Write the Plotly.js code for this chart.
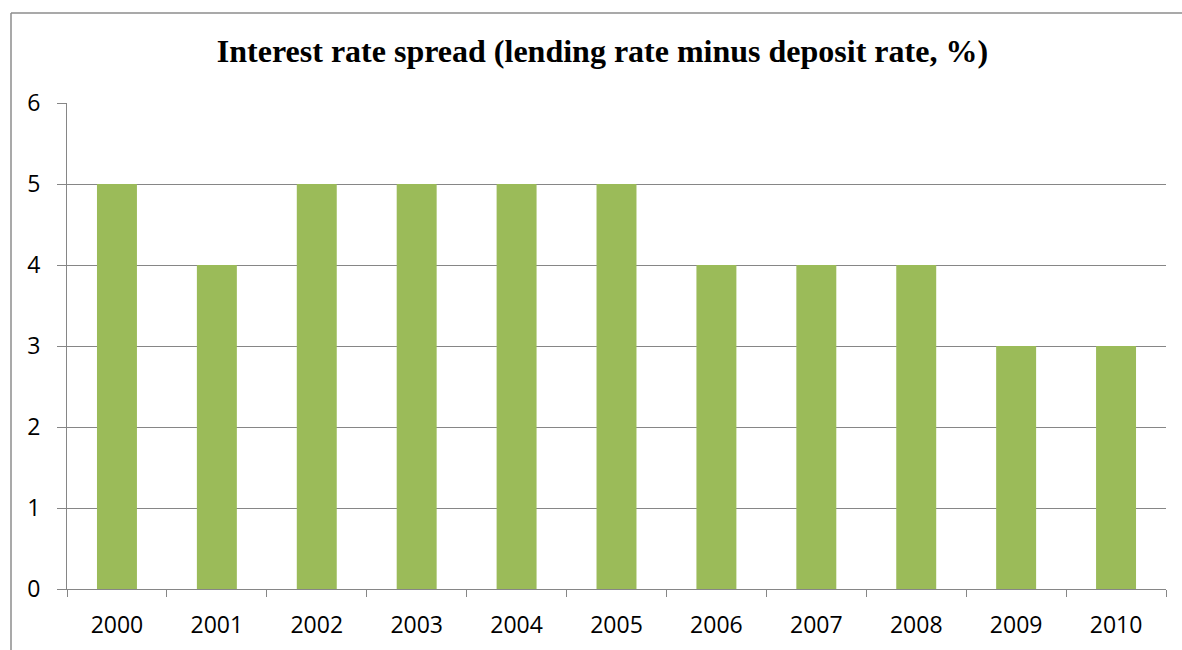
<!DOCTYPE html>
<html>
<head>
<meta charset="utf-8">
<script src="https://cdn.plot.ly/plotly-3.0.1.min.js"></script>
<style>html,body{margin:0;padding:0;background:#fff;}#chart{width:1182px;height:650px;}</style>
</head>
<body>
<div id="chart"></div>
<script>
var years = ["2000","2001","2002","2003","2004","2005","2006","2007","2008","2009","2010"];
var spread = [5, 4, 5, 5, 5, 5, 4, 4, 4, 3, 3];
var yTicks = [0, 1, 2, 3, 4, 5, 6];
var titleText = "Interest rate spread (lending rate minus deposit rate, %)";

var trace = {
  type: "bar",
  x: years,
  y: spread,
  marker: {color: "#9BBB59", line: {width: 0}},
  hoverinfo: "x+y"
};

var layout = {
  width: 1182, height: 650,
  margin: {l: 67, r: 16, t: 103, b: 61},
  paper_bgcolor: "#ffffff", plot_bgcolor: "#ffffff",
  bargap: 0.6,
  showlegend: false,
  title: {
    text: "<b>" + titleText + "</b>",
    font: {family: "Liberation Serif, Times New Roman, serif", size: 32, color: "#000"},
    xref: "container", x: 0.5097, xanchor: "center",
    yref: "container", y: 1 - 51/650, yanchor: "middle"
  },
  font: {family: "Open Sans, sans-serif", size: 23, color: "#000"},
  xaxis: {
    type: "category",
    showline: true, linecolor: "#868686", linewidth: 1,
    ticks: "outside", tickson: "boundaries", ticklen: 7, tickcolor: "#868686", tickwidth: 1,
    showgrid: false, zeroline: false,
    tickfont: {family: "Open Sans, sans-serif", size: 23, color: "#000"},
    ticklabelstandoff: 15
  },
  yaxis: {
    range: [0, 6], tickvals: yTicks, ticktext: yTicks.map(String),
    showline: true, linecolor: "#868686", linewidth: 1,
    ticks: "outside", ticklen: 9, tickcolor: "#868686", tickwidth: 1,
    showgrid: true, gridcolor: "#868686", gridwidth: 1,
    zeroline: false,
    tickfont: {family: "Open Sans, sans-serif", size: 23, color: "#000"},
    ticklabelstandoff: 12
  },
  shapes: [
    {type: "line", xref: "paper", yref: "paper",
     x0: (11-67)/1099, x1: (11-67)/1099, y0: -0.2, y1: 1 + (103-13)/486,
     line: {color: "#8c8c8c", width: 1.5}},
    {type: "line", xref: "paper", yref: "paper",
     x0: (11-67)/1099, x1: 1.05, y0: 1 + (103-13)/486, y1: 1 + (103-13)/486,
     line: {color: "#8c8c8c", width: 1.5}}
  ]
};

Plotly.newPlot("chart", [trace], layout, {displayModeBar: false, staticPlot: true});
</script>
</body>
</html>
